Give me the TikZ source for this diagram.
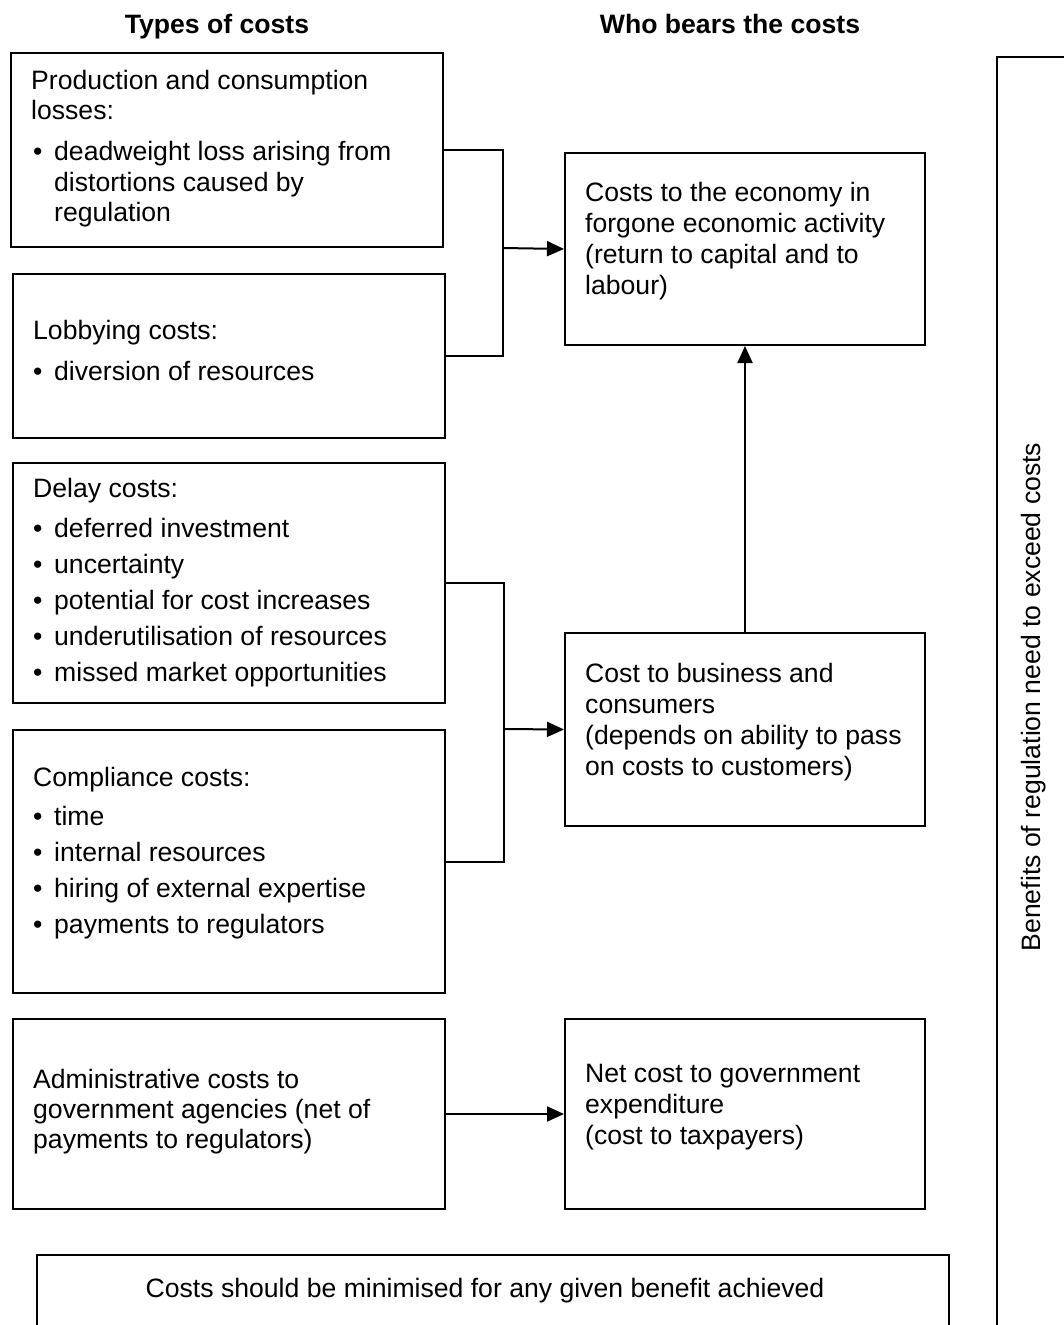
\documentclass[tikz,border=0pt]{standalone}
\usepackage{fontspec}
\setmainfont{Liberation Sans}
\usetikzlibrary{arrows.meta}
\newcommand{\bul}{\makebox[21pt][l]{\textbullet}}
\begin{document}
\begin{tikzpicture}[x=1pt,y=-1pt,
  box/.style={draw=black,line width=2pt,inner sep=0pt,anchor=north west},
  txt/.style={anchor=base west,inner sep=0pt,font=\fontsize{26.6}{31}\selectfont},
  hdr/.style={anchor=base,inner sep=0pt,font=\fontsize{26.6}{31}\selectfont\bfseries},
  conn/.style={draw=black,line width=2pt},
  arr/.style={conn,-{Triangle[length=17pt,width=15pt]}}]
\useasboundingbox (0,0) rectangle (1064,1325);
\clip (0,0) rectangle (1064,1325);
% headers
\node[hdr] (h1) at (217,33) {Types of costs};
\node[hdr] (h2) at (730,33) {Who bears the costs};
% left boxes
\node[box,minimum width=432pt,minimum height=194pt] (b1) at (10,52) {};
\node[box,minimum width=432pt,minimum height=164pt] (b2) at (12,273) {};
\node[box,minimum width=432pt,minimum height=240pt] (b3) at (12,462) {};
\node[box,minimum width=432pt,minimum height=263pt] (b4) at (12,729) {};
\node[box,minimum width=432pt,minimum height=190pt] (b5) at (12,1018) {};
% right boxes
\node[box,minimum width=360pt,minimum height=192pt] (r1) at (564,152) {};
\node[box,minimum width=360pt,minimum height=193pt] (r2) at (564,632) {};
\node[box,minimum width=360pt,minimum height=190pt] (r3) at (564,1018) {};
% bottom and side boxes (cut by the edge)
\node[box,minimum width=912pt,minimum height=90pt] (bot) at (36,1254) {};
\node[box,minimum width=90pt,minimum height=1290pt] (side) at (996,56) {};
% texts box 1
\node[txt] (t11) at (31,89) {Production and consumption};
\node[txt] (t12) at (31,119) {losses:};
\node[txt] (t13) at (33,160) {\bul deadweight loss arising from};
\node[txt] (t14) at (54,191) {distortions caused by};
\node[txt] (t15) at (54,221) {regulation};
% box 2
\node[txt] (t21) at (33,339) {Lobbying costs:};
\node[txt] (t22) at (33,380) {\bul diversion of resources};
% box 3
\node[txt] (t31) at (33,497) {Delay costs:};
\node[txt] (t32) at (33,537) {\bul deferred investment};
\node[txt] (t33) at (33,573) {\bul uncertainty};
\node[txt] (t34) at (33,609) {\bul potential for cost increases};
\node[txt] (t35) at (33,645) {\bul underutilisation of resources};
\node[txt] (t36) at (33,681) {\bul missed market opportunities};
% box 4
\node[txt] (t41) at (33,786) {Compliance costs:};
\node[txt] (t42) at (33,825) {\bul time};
\node[txt] (t43) at (33,861) {\bul internal resources};
\node[txt] (t44) at (33,897) {\bul hiring of external expertise};
\node[txt] (t45) at (33,933) {\bul payments to regulators};
% box 5
\node[txt] (t51) at (33,1088) {Administrative costs to};
\node[txt] (t52) at (33,1118) {government agencies (net of};
\node[txt] (t53) at (33,1148) {payments to regulators)};
% right texts
\node[txt] (u11) at (585,201) {Costs to the economy in};
\node[txt] (u12) at (585,232) {forgone economic activity};
\node[txt] (u13) at (585,263) {(return to capital and to};
\node[txt] (u14) at (585,294) {labour)};
\node[txt] (u21) at (585,682) {Cost to business and};
\node[txt] (u22) at (585,713) {consumers};
\node[txt] (u23) at (585,744) {(depends on ability to pass};
\node[txt] (u24) at (585,775) {on costs to customers)};
\node[txt] (u31) at (585,1082) {Net cost to government};
\node[txt] (u32) at (585,1113) {expenditure};
\node[txt] (u33) at (585,1144) {(cost to taxpayers)};
% bottom text
\node[txt,anchor=base] (bt) at (485,1297) {Costs should be minimised for any given benefit achieved};
% side text
\node[txt,anchor=base,rotate=90] (st) at (1040,697) {Benefits of regulation need to exceed costs};
% connectors
\coordinate (j1) at (503,248);
\coordinate (j2) at (504,729);
\draw[conn] (b1.east) -| (j1);
\draw[conn] (b2.east) -| (j1);
\draw[arr] (j1) -- (r1.west);
\draw[conn] (b3.east) -| (j2);
\draw[conn] (b4.east) -| (j2);
\draw[arr] (j2) -- (r2.west);
\draw[arr] (r2.north) -- (r1.south);
\draw[arr] (b5.east) -- (r3.west);
\end{tikzpicture}
\end{document}
